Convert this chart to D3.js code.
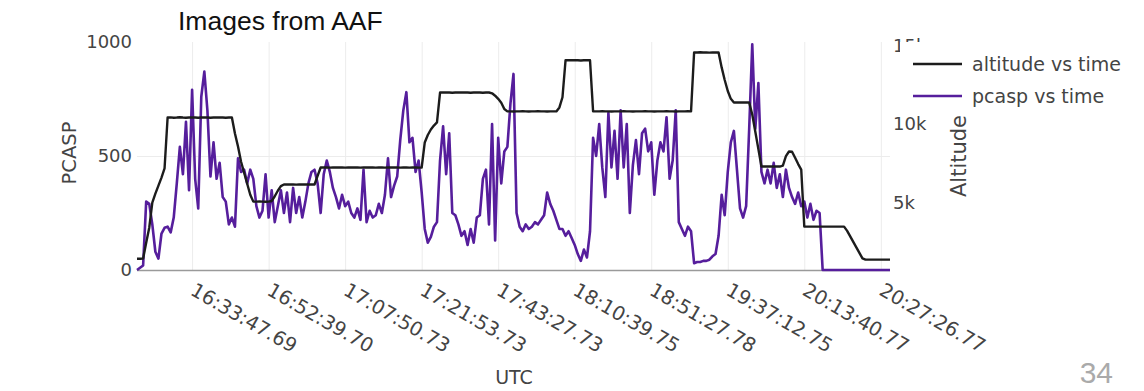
<!DOCTYPE html>
<html>
<head>
<meta charset="utf-8">
<script src="https://cdn.jsdelivr.net/npm/d3@7"></script>
<style>
  html, body { margin: 0; padding: 0; background: #fff; }
  svg { display: block; }
</style>
</head>
<body>
<svg id="chart" width="1144" height="391"></svg>
<script>
// PCASP particle counts, one value per sample along the flight
const pcasp = [
  0, 10, 20, 300, 290, 200, 80, 50, 160, 185,
  190, 165, 230, 380, 540, 420, 650, 350, 790, 400,
  270, 760, 870, 700, 410, 560, 400, 470, 320, 300,
  200, 230, 190, 490, 430, 440, 380, 440, 400, 280,
  230, 260, 420, 230, 350, 210, 280, 350, 250, 340,
  210, 360, 250, 320, 230, 300, 380, 430, 440, 380,
  250, 420, 480, 430, 360, 320, 270, 330, 280, 300,
  250, 230, 270, 220, 440, 210, 260, 230, 240, 290,
  250, 330, 490, 320, 370, 410, 570, 700, 780, 560,
  580, 430, 480, 340, 180, 120, 145, 190, 210, 480,
  630, 420, 600, 250, 240, 200, 150, 170, 110, 180,
  120, 230, 240, 400, 440, 200, 640, 130, 580, 380,
  520, 540, 730, 860, 250, 190, 170, 200, 180, 190,
  210, 200, 220, 240, 340, 290, 260, 220, 180, 180,
  150, 170, 140, 110, 70, 40, 90, 55, 170, 580,
  500, 640, 450, 320, 690, 450, 610, 400, 700, 450,
  640, 250, 460, 570, 420, 600, 620, 520, 560, 330,
  480, 560, 520, 670, 400, 480, 700, 210, 180, 150,
  190, 170, 30, 35, 35, 40, 40, 45, 60, 70,
  150, 330, 240, 430, 560, 610, 440, 270, 230, 280,
  620, 990, 620, 820, 430, 380, 440, 380, 470, 360,
  420, 320, 440, 360, 320, 290, 340, 280, 300, 230,
  290, 220, 260, 250, 0, 0, 0, 0, 0, 0,
  0, 0, 0, 0, 0, 0, 0, 0, 0, 0,
  0, 0, 0, 0, 0, 0, 0
];

// Aircraft altitude (ft) at the same samples
const altitude = [
  1430, 1430, 1440, 2450, 3400, 5000, 5570, 6080, 6590, 7170,
  10410, 10420, 10400, 10410, 10430, 10410, 10400, 10410, 10420, 10410,
  10400, 10410, 10420, 10410, 10400, 10410, 10410, 10420, 10410, 10400,
  10410, 10410, 9400, 8570, 7600, 6900, 6200, 5500, 5060, 5060,
  5070, 5060, 5050, 5060, 5100, 5400, 5750, 6050, 6150, 6150,
  6160, 6150, 6140, 6150, 6150, 6160, 6150, 6150, 6150, 6700,
  7230, 7240, 7230, 7220, 7230, 7240, 7230, 7230, 7220, 7230,
  7240, 7230, 7230, 7220, 7230, 7230, 7240, 7230, 7220, 7230,
  7230, 7220, 7230, 7230, 7240, 7230, 7220, 7230, 7230, 7220,
  7230, 7230, 7220, 7230, 8820, 9300, 9650, 9900, 10100, 12000,
  12000, 12010, 12000, 11990, 12000, 12000, 12010, 12000, 12000, 11990,
  12000, 12000, 12000, 11990, 12000, 12000, 11950, 11800, 11600, 11350,
  10950, 10800, 10800, 10790, 10800, 10800, 10810, 10800, 10790, 10800,
  10800, 10810, 10800, 10800, 10790, 10800, 10800, 10800, 11050, 11700,
  14050, 14050, 14060, 14050, 14050, 14040, 14050, 14050, 14050, 10800,
  10800, 10800, 10810, 10800, 10800, 10790, 10800, 10800, 10800, 10810,
  10800, 10800, 10790, 10800, 10800, 10800, 10810, 10800, 10800, 10790,
  10800, 10800, 10800, 10810, 10800, 10800, 10790, 10800, 10800, 10800,
  10810, 10800, 14550, 14550, 14560, 14550, 14550, 14540, 14550, 14550,
  14550, 13600, 12800, 12100, 11600, 11370, 11370, 11370, 11370, 11370,
  11370, 10600, 9500, 8400, 7290, 7290, 7290, 7290, 7290, 7290,
  7290, 7350, 7950, 8250, 8230, 7850, 7450, 7100, 3470, 3470,
  3470, 3470, 3470, 3470, 3470, 3470, 3470, 3470, 3470, 3470,
  3470, 3470, 3200, 2850, 2500, 2150, 1800, 1450, 1370, 1370,
  1370, 1370, 1370, 1370, 1370, 1370, 1370
];

// UTC time labels shown along the x axis and the samples they sit on
const timeLabels = [
  "16:33:47.69", "16:52:39.70", "17:07:50.73", "17:21:53.73", "17:43:27.73",
  "18:10:39.75", "18:51:27.78", "19:37:12.75", "20:13:40.77", "20:27:26.77"
];
const timeTickSamples = [18, 43, 68, 93, 118, 143, 168, 193, 218, 243];

const pcaspTicks = [0, 500, 1000];
const altitudeTicks = [5000, 10000, 15000];

const seriesNames = ["altitude vs time", "pcasp vs time"];
const seriesColors = ["#1c1c1c", "#561e9c"];

// ---- layout ----
const svg = d3.select("#chart");
const plot = { left: 137, right: 890, top: 42, bottom: 270 };
const tickFont = "'DejaVu Sans', Verdana, sans-serif";
const textGray = "#444";

const x = d3.scaleLinear().domain([0, pcasp.length - 1]).range([plot.left, plot.right]);
const yLeft = d3.scaleLinear().domain([0, 1000]).range([plot.bottom, plot.top]);
const yRight = d3.scaleLinear().domain([710, 15215]).range([plot.bottom, plot.top]);

// vertical grid at the time ticks
svg.append("g")
  .attr("transform", `translate(0,${plot.bottom})`)
  .call(d3.axisBottom(x).tickValues(timeTickSamples)
        .tickSize(-(plot.bottom - plot.top)).tickFormat(""))
  .call(g => g.select(".domain").remove())
  .call(g => g.selectAll("line").attr("stroke", "#ececec").attr("stroke-width", 1));

// horizontal grid for the PCASP axis
svg.append("g")
  .attr("transform", `translate(${plot.left},0)`)
  .call(d3.axisLeft(yLeft).tickValues(pcaspTicks.filter(v => v > 0 && v < 1000))
        .tickSize(-(plot.right - plot.left)).tickFormat(""))
  .call(g => g.select(".domain").remove())
  .call(g => g.selectAll("line").attr("stroke", "#ececec").attr("stroke-width", 1));

// zero line
svg.append("line")
  .attr("x1", plot.left).attr("x2", plot.right)
  .attr("y1", yLeft(0) + 0.5).attr("y2", yLeft(0) + 0.5)
  .attr("stroke", "#9a9a9a").attr("stroke-width", 1.6);

// series
const idx = d3.range(pcasp.length);
svg.append("path")
  .datum(idx)
  .attr("fill", "none")
  .attr("stroke", seriesColors[1])
  .attr("stroke-width", 2.6)
  .attr("stroke-linejoin", "round")
  .attr("d", d3.line().x(i => x(i)).y(i => yLeft(pcasp[i])));

svg.append("path")
  .datum(idx)
  .attr("fill", "none")
  .attr("stroke", seriesColors[0])
  .attr("stroke-width", 2.4)
  .attr("stroke-linejoin", "round")
  .attr("d", d3.line().x(i => x(i)).y(i => yRight(altitude[i])));

// left axis labels
const leftAxis = svg.append("g")
  .attr("transform", `translate(${plot.left},0)`)
  .call(d3.axisLeft(yLeft).tickValues(pcaspTicks).tickSize(0).tickPadding(5).tickFormat(d3.format("d")));
leftAxis.select(".domain").remove();
leftAxis.selectAll("text")
  .attr("font-family", tickFont).attr("font-size", 18).attr("fill", textGray);

// right axis labels
const rightAxis = svg.append("g")
  .attr("transform", `translate(${plot.right},0)`)
  .call(d3.axisRight(yRight).tickValues(altitudeTicks).tickSize(0).tickPadding(3)
        .tickFormat(d => d3.format("~s")(d)));
rightAxis.select(".domain").remove();
rightAxis.selectAll("text")
  .attr("font-family", tickFont).attr("font-size", 18).attr("fill", textGray);

// rotated time labels
const xLabels = svg.append("g");
timeTickSamples.forEach((s, k) => {
  xLabels.append("text")
    .attr("transform", `translate(${x(s) + 4},${plot.bottom + 12}) rotate(30)`)
    .attr("dy", "0.71em")
    .attr("text-anchor", "start")
    .attr("font-family", tickFont).attr("font-size", 19.5).attr("fill", textGray)
    .text(timeLabels[k]);
});

// axis titles
svg.append("text")
  .attr("transform", "translate(76,153) rotate(-90)")
  .attr("text-anchor", "middle")
  .attr("font-family", tickFont).attr("font-size", 19.5).attr("fill", textGray)
  .text("PCASP");

svg.append("text")
  .attr("transform", "translate(966,156) rotate(-90)")
  .attr("text-anchor", "middle")
  .attr("font-family", tickFont).attr("font-size", 21).attr("fill", textGray)
  .text("Altitude");

svg.append("text")
  .attr("x", 514).attr("y", 384)
  .attr("text-anchor", "middle")
  .attr("font-family", tickFont).attr("font-size", 19).attr("fill", textGray)
  .text("UTC");

// legend
const legend = svg.append("g");
legend.append("rect")
  .attr("x", 900).attr("y", 42).attr("width", 244).attr("height", 68)
  .attr("fill", "#fff");
seriesNames.forEach((name, k) => {
  const ly = 64 + k * 32;
  legend.append("line")
    .attr("x1", 913).attr("x2", 962).attr("y1", ly).attr("y2", ly)
    .attr("stroke", seriesColors[k]).attr("stroke-width", 2.4);
  legend.append("text")
    .attr("x", 972).attr("y", ly).attr("dy", "0.35em")
    .attr("font-family", tickFont).attr("font-size", 19).attr("fill", textGray)
    .text(name);
});

// title and page number
svg.append("text")
  .attr("x", 178).attr("y", 30)
  .attr("font-family", "'Liberation Sans', Arial, sans-serif")
  .attr("font-size", 26.5).attr("fill", "#111")
  .text("Images from AAF");

svg.append("text")
  .attr("x", 1113).attr("y", 383)
  .attr("text-anchor", "end")
  .attr("font-family", "'Liberation Sans', Arial, sans-serif")
  .attr("font-size", 30).attr("fill", "#aaaaaa")
  .text("34");
</script>
</body>
</html>
